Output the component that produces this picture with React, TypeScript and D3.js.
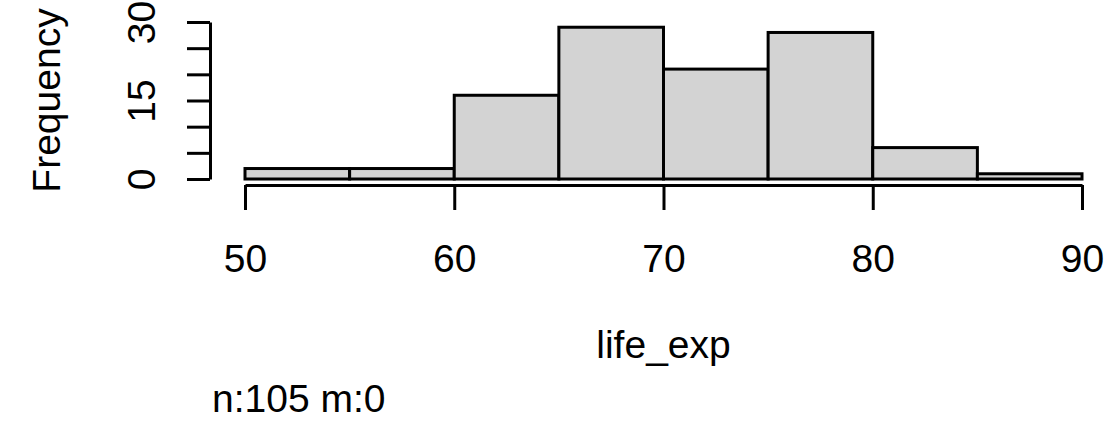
import React, { useRef, useEffect } from 'react';
import * as d3 from 'd3';

// histogram of life_exp, bins of width 5
const binStarts = [50, 55, 60, 65, 70, 75, 80, 85];
const counts = [2, 2, 16, 29, 21, 28, 6, 1];
const binWidth = 5;
const xTicks = [50, 60, 70, 80, 90];
const yTicks = [0, 5, 10, 15, 20, 25, 30];
const yLabelled = [0, 15, 30];
const xTitle = 'life_exp';
const yTitle = 'Frequency';
const note = 'n:105 m:0';

const W = 1110;
const H = 424;
const FONT = '"Liberation Sans", Arial, Helvetica, sans-serif';

const App = () => {
  const svgRef = useRef<SVGSVGElement>(null);

  useEffect(() => {
    document.body.style.margin = '0';
    const svg = d3.select(svgRef.current);
    svg.selectAll('*').remove();

    const x = d3.scaleLinear().domain([50, 90]).range([245, 1082]);
    const y = d3.scaleLinear().domain([0, 30]).range([179, 22]);

    // bars
    svg
      .append('g')
      .selectAll('rect')
      .data(binStarts.map((b, i) => ({ b, n: counts[i] })))
      .enter()
      .append('rect')
      .attr('x', (d) => x(d.b))
      .attr('y', (d) => y(d.n))
      .attr('width', (d) => x(d.b + binWidth) - x(d.b))
      .attr('height', (d) => y(0) - y(d.n))
      .attr('fill', '#d3d3d3')
      .attr('stroke', '#000')
      .attr('stroke-width', 3);

    // x axis
    const gx = svg
      .append('g')
      .attr('transform', 'translate(0,185)')
      .call(
        d3
          .axisBottom(x)
          .tickValues(xTicks)
          .tickSize(25)
          .tickSizeOuter(0)
          .tickPadding(34)
          .tickFormat(d3.format('d'))
      );

    // y axis, ticks every 5 but labels only on some
    const gy = svg
      .append('g')
      .attr('transform', 'translate(210,0)')
      .call(
        d3
          .axisLeft(y)
          .tickValues(yTicks)
          .tickSize(23)
          .tickSizeOuter(0)
          .tickFormat((d) => (yLabelled.includes(+d) ? String(d) : ''))
      );

    [gx, gy].forEach((g) => {
      g.selectAll('path, line').attr('stroke', '#000').attr('stroke-width', 3);
      g.selectAll('text')
        .attr('fill', '#000')
        .style('font-family', FONT)
        .style('font-size', '39px');
    });

    gy.selectAll('.tick text')
      .attr('x', null)
      .attr('dy', null)
      .attr('text-anchor', 'middle')
      .attr('transform', 'translate(-55,0) rotate(-90)');

    // titles
    svg
      .append('text')
      .attr('x', (x(50) + x(90)) / 2)
      .attr('y', 358)
      .attr('text-anchor', 'middle')
      .style('font-family', FONT)
      .style('font-size', '39px')
      .text(xTitle);

    svg
      .append('text')
      .attr('transform', `translate(60,${(y(0) + y(30)) / 2}) rotate(-90)`)
      .attr('text-anchor', 'middle')
      .style('font-family', FONT)
      .style('font-size', '39px')
      .text(yTitle);

    svg
      .append('text')
      .attr('x', 212)
      .attr('y', 412)
      .style('font-family', FONT)
      .style('font-size', '39px')
      .text(note);
  }, []);

  return <svg ref={svgRef} width={W} height={H} style={{ display: 'block', background: '#fff' }} />;
};

export default App;
